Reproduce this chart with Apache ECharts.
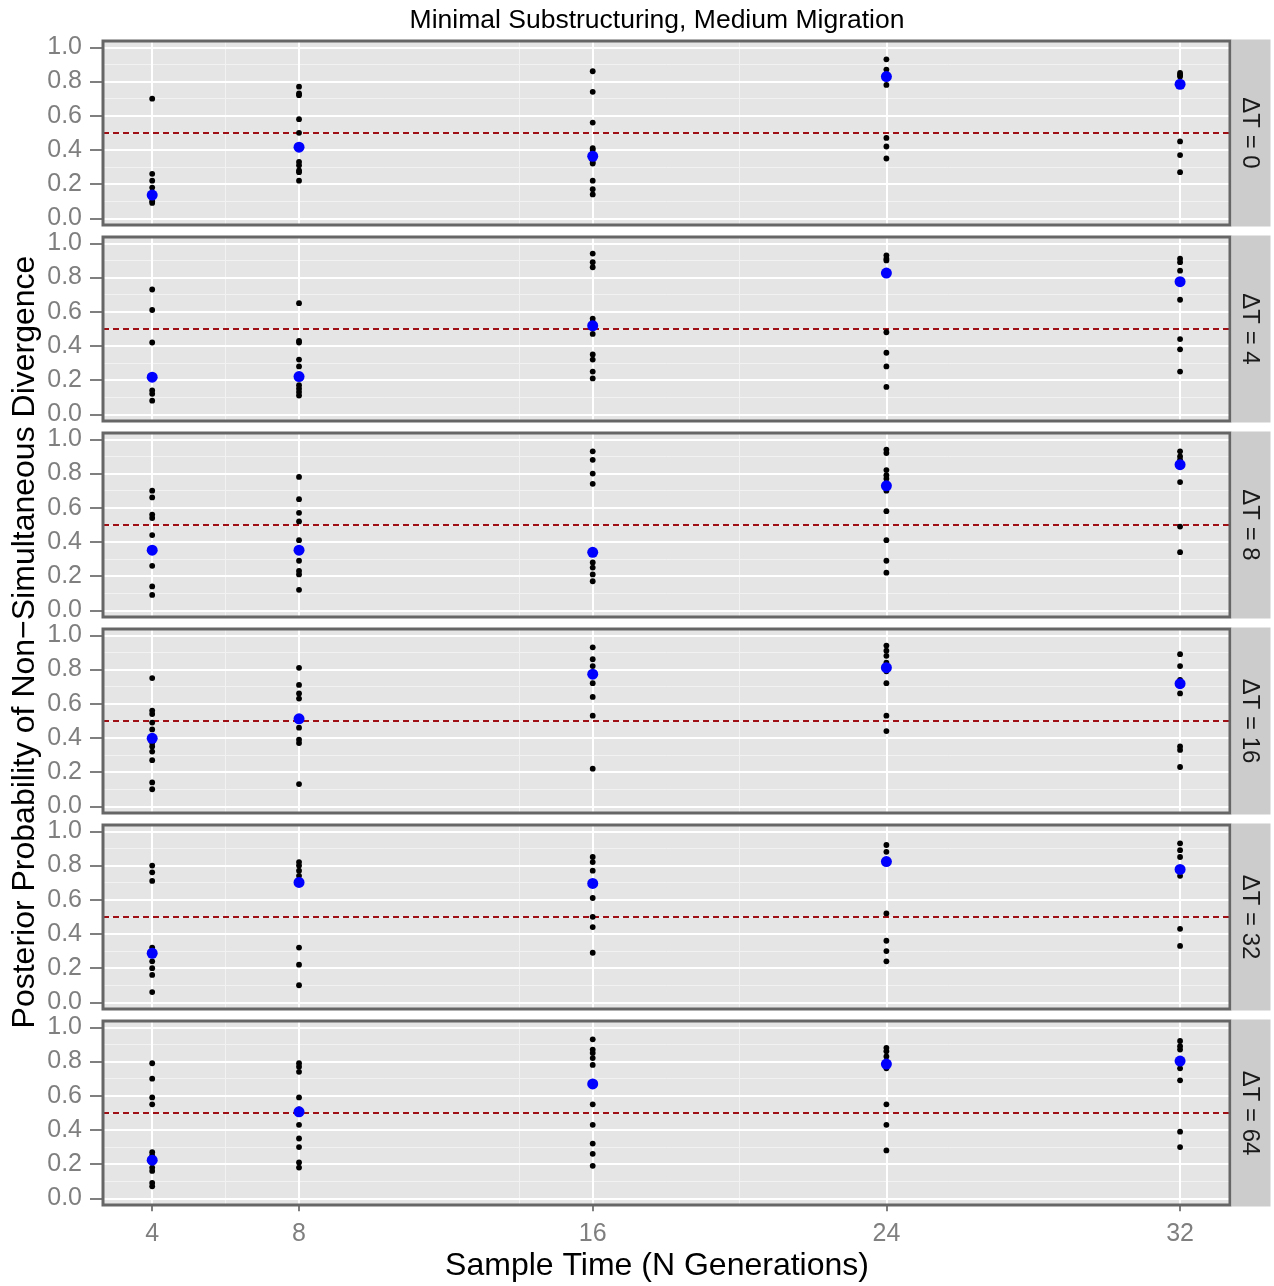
<!DOCTYPE html>
<html><head><meta charset="utf-8">
<script src="https://cdn.jsdelivr.net/npm/echarts@6/dist/echarts.min.js"></script>
<style>html,body{margin:0;padding:0;background:#fff}#c{width:1274px;height:1286px}</style>
</head><body><div id="c"></div>
<script>
// ---------- data ----------
const sampleTimes = [4, 8, 16, 24, 32];
const panelLabels = ['ΔT = 0', 'ΔT = 4', 'ΔT = 8', 'ΔT = 16', 'ΔT = 32', 'ΔT = 64'];
const yTicks = [0, 0.2, 0.4, 0.6, 0.8, 1.0];
const yMinorTicks = [0.1, 0.3, 0.5, 0.7, 0.9];
const xMinorTicks = [6, 14, 20];
const threshold = 0.5;

// replicate estimates, one list per sample time (4, 8, 16, 24, 32)
const runsDT0 = [
  [0.70, 0.26, 0.22, 0.18, 0.14, 0.12, 0.10, 0.09],
  [0.77, 0.73, 0.72, 0.58, 0.50, 0.33, 0.31, 0.28, 0.27, 0.22],
  [0.86, 0.74, 0.56, 0.41, 0.40, 0.33, 0.32, 0.22, 0.17, 0.14],
  [0.93, 0.87, 0.84, 0.78, 0.47, 0.42, 0.35],
  [0.85, 0.84, 0.83, 0.45, 0.37, 0.27]
];
const runsDT4 = [
  [0.73, 0.61, 0.42, 0.14, 0.12, 0.08],
  [0.65, 0.43, 0.42, 0.32, 0.28, 0.17, 0.15, 0.13, 0.11],
  [0.94, 0.89, 0.86, 0.56, 0.54, 0.47, 0.35, 0.32, 0.25, 0.21],
  [0.93, 0.91, 0.90, 0.48, 0.36, 0.28, 0.16],
  [0.91, 0.89, 0.84, 0.67, 0.44, 0.38, 0.25]
];
const runsDT8 = [
  [0.70, 0.66, 0.56, 0.54, 0.44, 0.26, 0.14, 0.09],
  [0.78, 0.65, 0.57, 0.52, 0.41, 0.29, 0.23, 0.21, 0.12],
  [0.93, 0.88, 0.80, 0.74, 0.28, 0.25, 0.21, 0.17],
  [0.94, 0.92, 0.82, 0.79, 0.77, 0.70, 0.58, 0.41, 0.29, 0.22],
  [0.93, 0.90, 0.88, 0.75, 0.49, 0.34]
];
const runsDT16 = [
  [0.75, 0.56, 0.54, 0.49, 0.45, 0.37, 0.35, 0.32, 0.27, 0.14, 0.10],
  [0.81, 0.71, 0.66, 0.63, 0.46, 0.39, 0.37, 0.13],
  [0.93, 0.86, 0.82, 0.72, 0.64, 0.53, 0.22],
  [0.94, 0.91, 0.88, 0.84, 0.79, 0.72, 0.53, 0.44],
  [0.89, 0.82, 0.74, 0.66, 0.35, 0.33, 0.23]
];
const runsDT32 = [
  [0.80, 0.76, 0.71, 0.32, 0.24, 0.20, 0.16, 0.06],
  [0.82, 0.80, 0.77, 0.74, 0.32, 0.22, 0.10],
  [0.85, 0.82, 0.77, 0.61, 0.50, 0.44, 0.29],
  [0.92, 0.88, 0.52, 0.36, 0.30, 0.24],
  [0.93, 0.89, 0.85, 0.74, 0.43, 0.33]
];
const runsDT64 = [
  [0.79, 0.70, 0.59, 0.55, 0.27, 0.25, 0.18, 0.16, 0.09, 0.07],
  [0.79, 0.77, 0.74, 0.59, 0.52, 0.43, 0.35, 0.30, 0.21, 0.18],
  [0.93, 0.87, 0.85, 0.82, 0.78, 0.55, 0.43, 0.32, 0.26, 0.19],
  [0.88, 0.86, 0.83, 0.76, 0.55, 0.43, 0.28],
  [0.92, 0.89, 0.87, 0.76, 0.69, 0.39, 0.30]
];

// summary estimates (blue), one per sample time
const meanDT0  = [0.136, 0.416, 0.363, 0.829, 0.784];
const meanDT4  = [0.217, 0.221, 0.518, 0.826, 0.776];
const meanDT8  = [0.352, 0.352, 0.339, 0.728, 0.852];
const meanDT16 = [0.398, 0.512, 0.773, 0.811, 0.717];
const meanDT32 = [0.287, 0.701, 0.695, 0.823, 0.777];
const meanDT64 = [0.223, 0.506, 0.669, 0.785, 0.803];

const panelRuns = [runsDT0, runsDT4, runsDT8, runsDT16, runsDT32, runsDT64];
const panelMeans = [meanDT0, meanDT4, meanDT8, meanDT16, meanDT32, meanDT64];

// ---------- layout ----------
const FONT = 'Liberation Sans, Arial, Helvetica, sans-serif';
const L = 103, W = 1127, TOP0 = 41, STEP = 196, H = 184;
const X_MIN = 2.66, X_MAX = 33.36, Y_MIN = -0.039, Y_MAX = 1.037;

const grid = [], xAxis = [], yAxis = [], series = [], graphic = [];

panelLabels.forEach((lab, k) => {
  const top = TOP0 + STEP * k;
  const last = k === panelLabels.length - 1;
  grid.push({left: L, width: W, top: top, height: H, show: true,
             backgroundColor: '#E5E5E5', borderWidth: 0});
  xAxis.push({
    gridIndex: k, type: 'value', min: X_MIN, max: X_MAX,
    axisLine: {show: false}, splitLine: {show: false},
    axisTick: last ? {show: true, customValues: sampleTimes, length: 13,
                      lineStyle: {color: '#7F7F7F', width: 2}} : {show: false},
    axisLabel: last ? {show: true, customValues: sampleTimes, color: '#7F7F7F',
                       fontSize: 25, fontFamily: FONT, margin: 17} : {show: false}
  });
  yAxis.push({
    gridIndex: k, type: 'value', min: Y_MIN, max: Y_MAX,
    axisLine: {show: false}, splitLine: {show: false},
    axisTick: {show: true, customValues: yTicks, length: 13,
               lineStyle: {color: '#7F7F7F', width: 2}},
    axisLabel: {show: true, customValues: yTicks, color: '#7F7F7F', fontSize: 25,
                fontFamily: FONT, margin: 21, formatter: v => v.toFixed(1)}
  });
  const ml = (data, style, z) => ({
    type: 'line', xAxisIndex: k, yAxisIndex: k, data: [], silent: true, z: z,
    markLine: {silent: true, z: z, symbol: ['none', 'none'], label: {show: false},
               animation: false, lineStyle: style, data: data}
  });
  series.push(ml([...yMinorTicks.map(v => ({yAxis: v})), ...xMinorTicks.map(v => ({xAxis: v}))],
                 {color: '#F2F2F2', width: 1, type: 'solid', opacity: 1}, 1));
  series.push(ml([...yTicks.map(v => ({yAxis: v})), ...sampleTimes.map(v => ({xAxis: v}))],
                 {color: '#FFFFFF', width: 2, type: 'solid', opacity: 1}, 2));
  series.push(ml([{yAxis: threshold}], {color: '#9E1016', width: 2, type: [6, 4], opacity: 1}, 3));

  const pts = [];
  panelRuns[k].forEach((col, i) => col.forEach(v => pts.push([sampleTimes[i], v])));
  series.push({type: 'scatter', xAxisIndex: k, yAxisIndex: k, data: pts, z: 10,
               symbolSize: 5.8, itemStyle: {color: '#000000', opacity: 1}, silent: true});
  series.push({type: 'scatter', xAxisIndex: k, yAxisIndex: k, z: 11,
               data: panelMeans[k].map((v, i) => [sampleTimes[i], v]),
               symbolSize: 11, itemStyle: {color: '#0000FF', opacity: 1}, silent: true});

  // panel border and strip
  graphic.push({type: 'rect', z: 100, silent: true,
    shape: {x: L, y: top, width: W, height: H},
    style: {fill: 'none', stroke: '#666666', lineWidth: 3}});
  graphic.push({type: 'rect', z: 100, silent: true,
    shape: {x: 1231.5, y: top - 1.5, width: 39, height: H + 3},
    style: {fill: '#CCCCCC'}});
  graphic.push({type: 'text', z: 101, silent: true, x: 1250, y: top + H / 2,
    rotation: -Math.PI / 2,
    style: {text: lab, fill: '#1A1A1A', font: '24px ' + FONT, align: 'center', verticalAlign: 'middle'}});
});

graphic.push({type: 'text', z: 101, silent: true, x: 657, y: 21,
  style: {text: 'Minimal Substructuring, Medium Migration', fill: '#000000',
          font: '26.5px ' + FONT, align: 'center', verticalAlign: 'middle'}});
graphic.push({type: 'text', z: 101, silent: true, x: 657, y: 1266,
  style: {text: 'Sample Time (N Generations)', fill: '#000000',
          font: '32px ' + FONT, align: 'center', verticalAlign: 'middle'}});
graphic.push({type: 'text', z: 101, silent: true, x: 25, y: 642,
  rotation: Math.PI / 2,
  style: {text: 'Posterior Probability of Non\u2212Simultaneous Divergence', fill: '#000000',
          font: '32px ' + FONT, align: 'center', verticalAlign: 'middle'}});

const chart = echarts.init(document.getElementById('c'), null, {renderer: 'canvas'});
chart.setOption({animation: false, backgroundColor: '#FFFFFF',
                 grid, xAxis, yAxis, series, graphic});
</script>
</body></html>
